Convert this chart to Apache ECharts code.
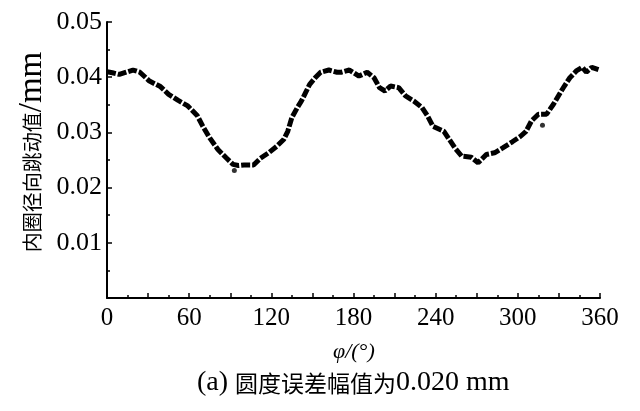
<!DOCTYPE html>
<html><head><meta charset="utf-8">
<script src="https://cdn.jsdelivr.net/npm/echarts@6/dist/echarts.min.js"></script>
<style>html,body{margin:0;padding:0;background:#fff}#c{width:640px;height:411px}</style>
</head><body><div id="c"></div>
<script>
const phiDeg = [0,4,9,14,19,24,31,39,45,52,59,66,70,75,81,87,92,96,100,107,112,118,124,129,132,135,139,142,145,148,152,156,162,168,171,177,184,190,195,199,203,207,213,218,224,230,234,238,246,250,254,259,266,271,277,283,289,296,302,306,310,315,321,326,331,334,338,343,347,350,354,360];
const runout = [0.0410,0.0408,0.0405,0.0409,0.0413,0.0409,0.0393,0.0383,0.0369,0.0358,0.0348,0.0330,0.0311,0.0290,0.0269,0.0254,0.0242,0.0240,0.0241,0.0241,0.0253,0.0263,0.0275,0.0287,0.0302,0.0327,0.0345,0.0357,0.0372,0.0387,0.0399,0.0409,0.0413,0.0409,0.0409,0.0413,0.0402,0.0409,0.0399,0.0381,0.0375,0.0384,0.0381,0.0366,0.0357,0.0345,0.0330,0.0311,0.0302,0.0287,0.0272,0.0257,0.0255,0.0245,0.0260,0.0263,0.0272,0.0283,0.0293,0.0302,0.0321,0.0333,0.0333,0.0351,0.0372,0.0384,0.0399,0.0412,0.0418,0.0409,0.0418,0.0413];
const strayPhi = [93,318];
const strayRunout = [0.0231,0.0313];
const xTicks = [0,60,120,180,240,300,360];
const yTicks = [0.01,0.02,0.03,0.04,0.05];
const yNameCJK = '内圈径向跳动值';
const yNameUnit = '/mm';
const xName = 'φ/(°)';
const captionTag = '(a) ';
const captionCJK = '圆度误差幅值为';
const captionNum = '0.020 mm';

const serif = '"Liberation Serif","Times New Roman",serif';
const cjk = '"Noto Sans CJK SC",sans-serif';
const chart = echarts.init(document.getElementById('c'));
chart.setOption({
  animation:false,
  backgroundColor:'#fff',
  grid:{left:107,right:40,top:22,bottom:113},
  xAxis:{type:'value',min:0,max:360,interval:30,
    axisLine:{show:true,lineStyle:{color:'#000',width:2}},
    axisTick:{show:true,inside:true,length:5,lineStyle:{color:'#000',width:1.5}},
    minorTick:{show:true,splitNumber:2,length:3,lineStyle:{color:'#000',width:1.5}},
    splitLine:{show:false},
    axisLabel:{color:'#000',fontFamily:serif,fontSize:25,margin:8,
      formatter:v=>xTicks.includes(v)?String(v):''}
  },
  yAxis:{type:'value',min:0,max:0.05,interval:0.01,
    axisLine:{show:true,lineStyle:{color:'#000',width:2}},
    axisTick:{show:true,inside:true,length:5,lineStyle:{color:'#000',width:1.5}},
    minorTick:{show:true,splitNumber:2,length:3,lineStyle:{color:'#000',width:1.5}},
    splitLine:{show:false},
    axisLabel:{color:'#000',fontFamily:serif,fontSize:26,margin:5,
      formatter:v=>{const t=yTicks.find(k=>Math.abs(k-v)<1e-9);return t!==undefined?t.toFixed(2):'';}}
  },
  graphic:[
    {type:'text',x:32,y:152,rotation:Math.PI/2,
     style:{text:'{c|'+yNameCJK+'}{u|'+yNameUnit+'}',align:'center',verticalAlign:'middle',fill:'#000',
       rich:{c:{fontFamily:cjk,fontSize:20,fill:'#000'},u:{fontFamily:serif,fontSize:33,fill:'#000'}}}},
    {type:'text',style:{text:xName,x:333,y:352,fontFamily:serif,fontSize:22,fontStyle:'italic',fill:'#000',align:'left',verticalAlign:'middle'}},
    {type:'text',x:197,y:383,
     style:{text:'{n|'+captionTag+'}{c|'+captionCJK+'}{n|'+captionNum+'}',align:'left',verticalAlign:'middle',fill:'#000',
       rich:{n:{fontFamily:serif,fontSize:28,fill:'#000'},c:{fontFamily:cjk,fontSize:23,fill:'#000'}}}}
  ],
  series:[
    {type:'line',data:phiDeg.map((p,i)=>[p,runout[i]]),showSymbol:false,smooth:false,
     lineStyle:{color:'#000',width:5,type:[9,2],cap:'butt'}},
    {type:'scatter',data:strayPhi.map((p,i)=>[p,strayRunout[i]]),symbol:'circle',symbolSize:5,
     itemStyle:{color:'#000'}}
  ]
});
</script></body></html>
